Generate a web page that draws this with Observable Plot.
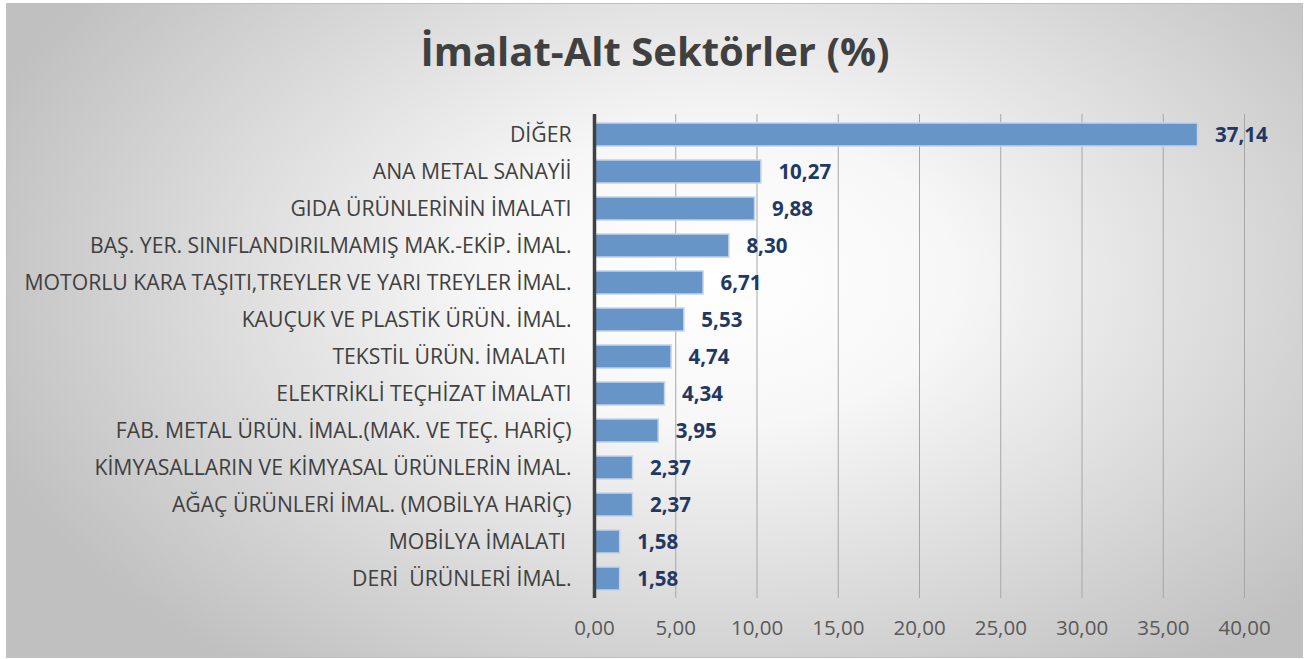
<!DOCTYPE html>
<html>
<head>
<meta charset="utf-8">
<script src="https://cdn.jsdelivr.net/npm/d3@7"></script>
<script src="https://cdn.jsdelivr.net/npm/@observablehq/plot@0.6"></script>
<style>
  html, body { margin: 0; padding: 0; background: #fff; }
  #wrap { position: relative; width: 1312px; height: 659px; overflow: hidden; }
  #box { position: absolute; left: 6px; top: 3px; width: 1295px; height: 653px;
         border: 1px solid #c0c0c0;
         background: radial-gradient(ellipse 60% 75% at 55% 42%, #ffffff 0%, #f7f7f7 30%, #c0c0c0 100%); }
  #title { position: absolute; left: 0; width: 1310px; top: 23px; text-align: center;
           font-family: "Open Sans", sans-serif; font-weight: bold; font-size: 40px; color: #404040; }
  #chart { position: absolute; left: 0; top: 0; }
</style>
</head>
<body>
<div id="wrap">
  <div id="box"></div>
  <div id="title">İmalat-Alt Sektörler (%)</div>
  <div id="chart"></div>
</div>
<script>
const categories = [
  "DİĞER",
  "ANA METAL SANAYİİ",
  "GIDA ÜRÜNLERİNİN İMALATI",
  "BAŞ. YER. SINIFLANDIRILMAMIŞ MAK.-EKİP. İMAL.",
  "MOTORLU KARA TAŞITI,TREYLER VE YARI TREYLER İMAL.",
  "KAUÇUK VE PLASTİK ÜRÜN. İMAL.",
  "TEKSTİL ÜRÜN. İMALATI\u00a0",
  "ELEKTRİKLİ TEÇHİZAT İMALATI",
  "FAB. METAL ÜRÜN. İMAL.(MAK. VE TEÇ. HARİÇ)",
  "KİMYASALLARIN VE KİMYASAL ÜRÜNLERİN İMAL.",
  "AĞAÇ ÜRÜNLERİ İMAL. (MOBİLYA HARİÇ)",
  "MOBİLYA İMALATI\u00a0",
  "DERİ\u00a0 ÜRÜNLERİ İMAL."
];
const values = [37.14, 10.27, 9.88, 8.30, 6.71, 5.53, 4.74, 4.34, 3.95, 2.37, 2.37, 1.58, 1.58];
const xTicks = [0, 5, 10, 15, 20, 25, 30, 35, 40];

const data = categories.map((c, i) => ({category: c, value: values[i]}));
const fmt = v => d3.format(".2f")(v).replace(".", ",");

const chart = Plot.plot({
  width: 1312,
  height: 659,
  marginLeft: 594,
  marginRight: 68,
  marginTop: 114,
  marginBottom: 61,
  style: {background: "transparent", fontFamily: "Open Sans, sans-serif"},
  x: {domain: [0, 40], ticks: xTicks},
  y: {domain: categories, paddingInner: 0.39, paddingOuter: 0.2, label: null},
  marks: [
    Plot.gridX(xTicks.filter(t => t > 0), {stroke: "#a6a6a6", strokeOpacity: 1, strokeWidth: 1}),
    Plot.barX(data, {x: "value", y: "category", fill: "#6895c8", stroke: "#c2d3ea", strokeWidth: 1.5}),
    Plot.ruleX([0], {stroke: "#404040", strokeWidth: 3.5}),
    Plot.text(data, {x: "value", y: "category", text: d => fmt(d.value), textAnchor: "start", dx: 17,
      fill: "#1f3864", fontWeight: "bold", fontSize: 20.5}),
    Plot.axisX(xTicks, {tickSize: 0, tickPadding: 22, tickFormat: fmt, fontSize: 20.5, fill: "#595959", label: null}),
    Plot.axisY({tickSize: 0, tickPadding: 23, fontSize: 21.2, fill: "#404040", label: null})
  ]
});
document.getElementById("chart").appendChild(chart);
</script>
</body>
</html>
